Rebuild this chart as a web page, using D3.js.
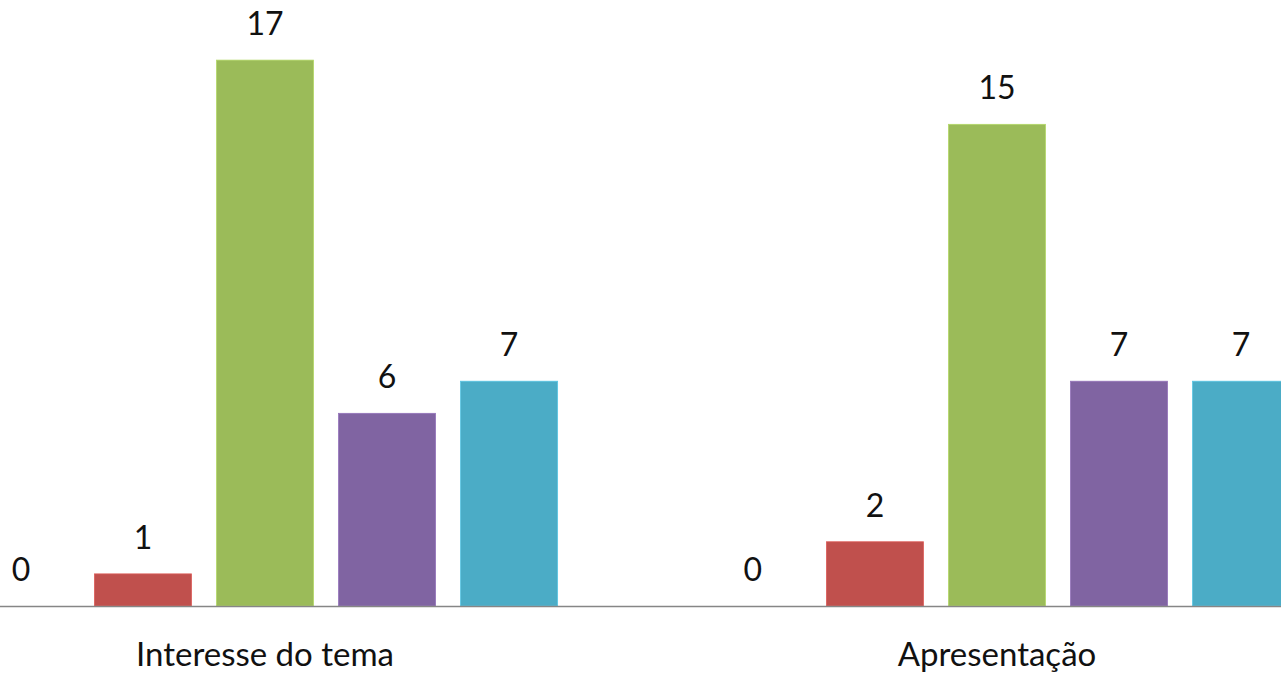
<!DOCTYPE html>
<html lang="pt">
<head>
  <meta charset="UTF-8">
  <title>Avaliação</title>
  <style>
    body { margin: 0; background: #fff; }
    svg { display: block; }
  </style>
</head>
<body>
  <script src="https://d3js.org/d3.v7.min.js"></script>
  <script>
    // Data
    let categories = ["Interesse do tema", "Apresentação"];
    let seriesNames = ["S1", "S2", "S3", "S4", "S5"];
    let seriesColors = ["#4F81BD", "#C0504D", "#9BBB59", "#8064A2", "#4BACC6"];
    let interesseValues = [0, 1, 17, 6, 7];
    let apresentacaoValues = [0, 2, 15, 7, 7];

    let svgWidth = 1281;
    let svgHeight = 674;

    // The plot area runs past the picture edges on both sides
    let margin = { top: 28, left: -101, right: -82, bottom: 68 };
    let chartWidth = svgWidth - margin.left - margin.right;
    let chartHeight = svgHeight - margin.top - margin.bottom;

    let svg = d3.select("body")
      .append("svg")
      .attr("width", svgWidth)
      .attr("height", svgHeight);

    let chartGroup = svg.append("g")
      .attr("transform", `translate(${margin.left}, ${margin.top})`);

    let tableData = categories.map((c, i) => ({
      category: c,
      values: [interesseValues, apresentacaoValues][i]
    }));

    // Scales
    let x0 = d3.scaleBand()
      .domain(categories)
      .range([0, chartWidth])
      .paddingInner(0.1663)
      .paddingOuter(0.0832);

    let x1 = d3.scaleBand()
      .domain(seriesNames)
      .range([0, x0.bandwidth()])
      .paddingInner(0.205)
      .paddingOuter(0.1025);

    let y = d3.scaleLinear()
      .domain([0, 18])
      .range([chartHeight, 0]);

    let font = "Lato, 'Open Sans', sans-serif";

    // Bars
    let groups = chartGroup.selectAll(".group")
      .data(tableData)
      .enter()
      .append("g")
      .attr("class", "group")
      .attr("transform", d => `translate(${x0(d.category)}, 0)`);

    let cells = groups.selectAll(".cell")
      .data(d => d.values.map((v, i) => ({ name: seriesNames[i], value: v, color: seriesColors[i] })))
      .enter();

    cells.append("rect")
      .attr("x", d => x1(d.name))
      .attr("y", d => y(d.value))
      .attr("width", x1.bandwidth())
      .attr("height", d => chartHeight - y(d.value))
      .attr("fill", d => d.color)
      .attr("stroke", d => d3.color(d.color).brighter(0.4))
      .attr("stroke-width", 0.8);

    // Value labels
    cells.append("text")
      .attr("x", d => x1(d.name) + x1.bandwidth() / 2)
      .attr("y", d => y(d.value) - 25)
      .attr("text-anchor", "middle")
      .style("font-family", font)
      .style("font-size", "32px")
      .style("fill", "#111")
      .text(d => d.value);

    // Category axis line
    svg.append("line")
      .attr("x1", 0)
      .attr("x2", svgWidth)
      .attr("y1", margin.top + chartHeight + 0.5)
      .attr("y2", margin.top + chartHeight + 0.5)
      .attr("stroke", "#868686")
      .attr("stroke-width", 1.5);

    // Category labels
    chartGroup.selectAll(".cat-label")
      .data(categories)
      .enter()
      .append("text")
      .attr("class", "cat-label")
      .attr("x", d => x0(d) + x0.bandwidth() / 2)
      .attr("y", chartHeight + 60)
      .attr("text-anchor", "middle")
      .style("font-family", font)
      .style("font-size", "33px")
      .style("fill", "#111")
      .text(d => d);
  </script>
</body>
</html>
